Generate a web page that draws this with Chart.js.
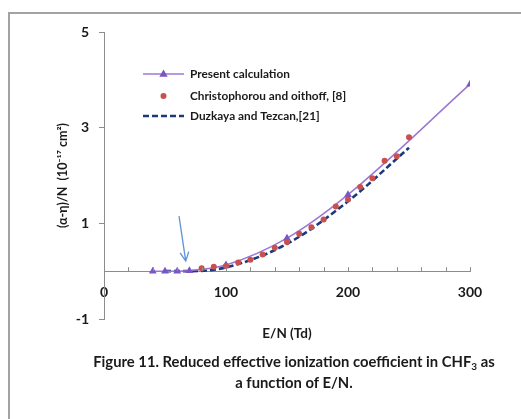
<!DOCTYPE html>
<html>
<head>
<meta charset="utf-8">
<script src="https://cdn.jsdelivr.net/npm/chart.js@4.4.0/dist/chart.umd.min.js"></script>
<style>
  html, body { margin: 0; padding: 0; background: #fff; overflow: hidden; }
  #wrap { position: relative; width: 521px; height: 419px; }
  #frame { position: absolute; left: 8px; top: 12px; width: 540px; height: 440px;
           border-left: 2px solid #a3a3a3; border-top: 2px solid #a3a3a3; }
  #chart { position: absolute; left: 0; top: 0; }
  #caption { position: absolute; left: 0; width: 588px; top: 351px; text-align: center;
             font: bold 14.8px Lato, sans-serif; line-height: 21px; color: #1a1a1a; white-space: nowrap; }
  #caption sub { font-size: 10px; vertical-align: baseline; position: relative; top: 3px; line-height: 0; }
</style>
</head>
<body>
<div id="wrap">
  <div id="frame"></div>
  <canvas id="chart" width="521" height="419"></canvas>
  <div id="caption">Figure 11. Reduced effective ionization coefficient in CHF<sub>3</sub> as<br>a function of E/N.</div>
</div>
<script>
// ─── Data ───────────────────────────────────────────────
const presentX = [40, 50, 60, 70, 100, 150, 200, 300];
const presentY = [0, 0, 0, 0.01, 0.13, 0.69, 1.6, 3.91];

const christX = [80, 90, 100, 110, 120, 130, 140, 150, 160, 170, 180, 190, 200, 210, 220, 230, 240, 250];
const christY = [0.06, 0.09, 0.11, 0.18, 0.24, 0.35, 0.49, 0.61, 0.78, 0.92, 1.08, 1.35, 1.5, 1.76, 1.94, 2.31, 2.40, 2.80];

const duzX = [50, 60, 70, 100, 150, 200, 250];
const duzY = [0, 0, 0, 0.08, 0.57, 1.46, 2.58];

const yTicks = [-1, 1, 3, 5];
const xLabels = [0, 100, 200, 300];

// arrow annotation, in data units (tail -> head)
const arrowFrom = [61.5, 1.15];
const arrowTo = [67, 0.21];

const pts = (xs, ys) => xs.map((x, i) => ({ x: x, y: ys[i] }));

const purple = '#9b78d3';
const purpleDark = '#7a56c4';
const red = '#c9504c';
const navy = '#1b3a7c';
const axisGray = '#8c8c8c';
const textColor = '#1a1a1a';

// ─── legend + arrow + inward x ticks ────────────────────
const extras = {
    id: 'extras',
    afterDatasetsDraw(chart) {
        const ctx = chart.ctx;
        const xs = chart.scales.x, ys = chart.scales.y;

        // arrow
        const x1 = xs.getPixelForValue(arrowFrom[0]), y1 = ys.getPixelForValue(arrowFrom[1]);
        const x2 = xs.getPixelForValue(arrowTo[0]), y2 = ys.getPixelForValue(arrowTo[1]);
        const ang = Math.atan2(y2 - y1, x2 - x1);
        ctx.save();
        ctx.strokeStyle = '#5f93d6';
        ctx.lineWidth = 1.3;
        ctx.beginPath();
        ctx.moveTo(x1, y1); ctx.lineTo(x2, y2);
        ctx.moveTo(x2 - 10 * Math.cos(ang - 0.45), y2 - 10 * Math.sin(ang - 0.45));
        ctx.lineTo(x2, y2);
        ctx.lineTo(x2 - 10 * Math.cos(ang + 0.45), y2 - 10 * Math.sin(ang + 0.45));
        ctx.stroke();
        ctx.restore();
    },
    afterDraw(chart) {
        const ctx = chart.ctx;
        const xs = chart.scales.x, ys = chart.scales.y;
        const y0 = ys.getPixelForValue(0);

        // x ticks pointing up
        ctx.save();
        ctx.strokeStyle = axisGray;
        ctx.lineWidth = 1;
        xs.ticks.forEach(t => {
            if (t.value === 0) return;
            const px = Math.round(xs.getPixelForValue(t.value)) + 0.5;
            ctx.beginPath();
            ctx.moveTo(px, y0);
            ctx.lineTo(px, y0 - 4);
            ctx.stroke();
        });

        // legend
        const lx0 = 143, lx1 = 184, tx = 190;
        const rows = [74, 96, 116];
        ctx.font = 'bold 11.8px Lato, sans-serif';
        ctx.textBaseline = 'middle';
        chart.data.datasets.forEach(ds => {
            const ry = rows[ds.legendRow];
            ctx.save();
            if (ds.showLine !== false) {
                ctx.strokeStyle = ds.borderColor;
                ctx.lineWidth = ds.borderWidth;
                ctx.setLineDash(ds.borderDash || []);
                ctx.beginPath();
                ctx.moveTo(lx0, ry); ctx.lineTo(lx1, ry);
                ctx.stroke();
            }
            ctx.setLineDash([]);
            const mx = (lx0 + lx1) / 2;
            if (ds.pointStyle === 'triangle' && ds.pointRadius > 0) {
                ctx.fillStyle = ds.pointBackgroundColor;
                ctx.beginPath();
                ctx.moveTo(mx, ry - 4.5);
                ctx.lineTo(mx + 4.2, ry + 2.8);
                ctx.lineTo(mx - 4.2, ry + 2.8);
                ctx.closePath();
                ctx.fill();
            } else if (ds.pointRadius > 0) {
                ctx.fillStyle = ds.pointBackgroundColor;
                ctx.beginPath();
                ctx.arc(mx, ry, ds.pointRadius, 0, Math.PI * 2);
                ctx.fill();
            }
            ctx.restore();
            ctx.fillStyle = textColor;
            ctx.fillText(ds.label, tx, ry);
        });
        ctx.restore();
    }
};

new Chart(document.getElementById('chart'), {
    type: 'scatter',
    data: {
        datasets: [
            {
                label: 'Duzkaya and Tezcan,[21]',
                legendRow: 2,
                data: pts(duzX, duzY),
                showLine: true,
                borderColor: navy,
                borderWidth: 2.6,
                borderDash: [6, 3],
                pointRadius: 0,
                cubicInterpolationMode: 'monotone',
                order: 3
            },
            {
                label: 'Present calculation',
                legendRow: 0,
                data: pts(presentX, presentY),
                showLine: true,
                borderColor: purple,
                borderWidth: 1.5,
                pointStyle: 'triangle',
                pointRadius: 4.5,
                pointBackgroundColor: purpleDark,
                pointBorderColor: purpleDark,
                pointBorderWidth: 0,
                cubicInterpolationMode: 'monotone',
                order: 2
            },
            {
                label: 'Christophorou and oithoff, [8]',
                legendRow: 1,
                data: pts(christX, christY),
                showLine: false,
                pointStyle: 'circle',
                pointRadius: 3,
                pointBackgroundColor: red,
                pointBorderColor: red,
                pointBorderWidth: 0,
                order: 1
            }
        ]
    },
    options: {
        responsive: false,
        animation: false,
        devicePixelRatio: 1,
        layout: { padding: { left: 0, top: 32, right: 51, bottom: 100 } },
        plugins: { legend: { display: false }, tooltip: { enabled: false } },
        scales: {
            x: {
                type: 'linear',
                position: { y: 0 },
                min: 0, max: 300,
                border: { display: true, color: axisGray, width: 1 },
                grid: { display: true, drawOnChartArea: false, drawTicks: false },
                ticks: {
                    stepSize: 20,
                    autoSkip: false,
                    maxRotation: 0,
                    padding: 13,
                    color: textColor,
                    font: { family: 'Lato', weight: 'bold', size: 14 },
                    callback: v => xLabels.includes(v) ? String(v) : ''
                },
                title: {
                    display: true,
                    text: 'E/N (Td)',
                    color: textColor,
                    font: { family: 'Lato', weight: 'bold', size: 13.5 },
                    padding: { top: 12, bottom: 0 }
                }
            },
            y: {
                type: 'linear',
                min: -1, max: 5,
                afterFit: s => { s.width = 104; },
                afterBuildTicks: s => { s.ticks = yTicks.map(v => ({ value: v })); },
                border: { display: true, color: axisGray, width: 1 },
                grid: { display: true, drawOnChartArea: false, drawTicks: true, tickLength: 5, color: axisGray },
                ticks: {
                    padding: 10,
                    color: textColor,
                    font: { family: 'Lato', weight: 'bold', size: 14 }
                },
                title: {
                    display: true,
                    text: '(α-η)/N  (10⁻¹⁷ cm²)',
                    color: textColor,
                    font: { family: 'Lato', weight: 'bold', size: 12.5 },
                    padding: { top: 55, bottom: 0 }
                }
            }
        }
    },
    plugins: [extras]
});
</script>
</body>
</html>
